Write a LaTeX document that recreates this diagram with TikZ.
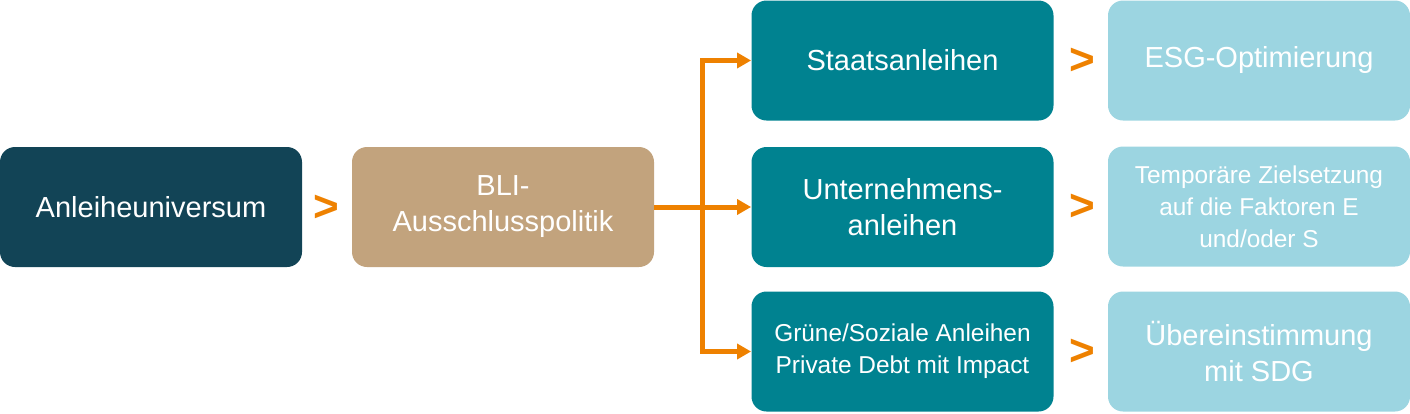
\documentclass[tikz,border=0pt]{standalone}
\usepackage{fontspec}
\setmainfont{Liberation Sans}
\usepackage{xcolor}
\usepackage{tikz}
\usetikzlibrary{arrows.meta}
\definecolor{navy}{HTML}{124456}
\definecolor{sand}{HTML}{C2A37D}
\definecolor{teal}{HTML}{008290}
\definecolor{sky}{HTML}{9CD5E1}
\definecolor{orange}{HTML}{EE8100}
\tikzset{
  box/.style={rounded corners=7.5pt, minimum width=151pt, minimum height=60pt, inner sep=2pt, align=center, text=white, font=\fontsize{14.5}{18}\selectfont},
  boxs/.style={box, font=\fontsize{12.2}{16}\selectfont},
  flow/.style={draw=orange, line width=2.5pt},
  arr/.style={flow, -{Triangle[length=7pt, width=7.5pt]}},
  gt/.style={text=orange, font=\fontsize{22}{24}\selectfont\bfseries, inner sep=0pt},
}

\begin{document}
\begin{tikzpicture}[x=0.5pt, y=-0.5pt]
  \useasboundingbox (0,0) rectangle (1410,413);
  % left part
  \node[box, fill=navy] (uni) at (151,207) {Anleiheuniversum};
  \node[gt] (gt1) at (326,208) {>};
  \node[box, fill=sand] (bli) at (503,207) {BLI-\\Ausschlusspolitik};
  % middle column
  \node[box, fill=teal] (staat) at (902.5,60.5) {Staatsanleihen};
  \node[box, fill=teal] (unter) at (902.5,207) {Unternehmens-\\anleihen};
  \node[boxs, fill=teal] (gruen) at (902.5,351.5) {Grüne/Soziale Anleihen\\Private Debt mit Impact};
  % right column
  \node[gt] (gt2) at (1082,61) {>};
  \node[gt] (gt3) at (1082,207) {>};
  \node[gt] (gt4) at (1082,352) {>};
  \node[box, fill=sky] (esg) at (1259,60.5) {ESG-Optimierung};
  \node[boxs, fill=sky] (temp) at (1259,206.5) {Temporäre Zielsetzung\\auf die Faktoren E\\und/oder S};
  \node[box, fill=sky] (sdg) at (1259,351.5) {Übereinstimmung\\mit SDG};
  % connectors
  \coordinate (split) at (702,207);
  \draw[flow] (bli.east) -- (split);
  \draw[arr] (split) |- (staat.west);
  \draw[arr] (split) -- (unter.west);
  \draw[arr] (split) |- (gruen.west);
\end{tikzpicture}
\end{document}
